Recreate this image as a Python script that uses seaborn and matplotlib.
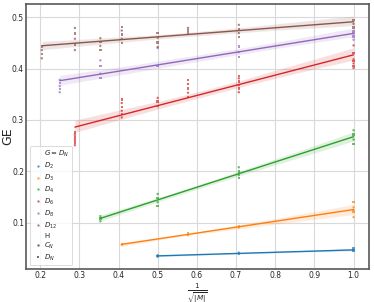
import numpy as np
import pandas as pd
import matplotlib
matplotlib.use("Agg")
import matplotlib.pyplot as plt
import seaborn as sns

# 1/sqrt(|M|) positions and GE values, one pair of lists per group G
d2_x = [0.5, 0.5, 0.5, 0.7071, 0.7071, 1.0, 1.0, 1.0]
d2_y = [0.034, 0.036, 0.037, 0.039, 0.042, 0.045, 0.047, 0.050]

d3_x = [0.4082, 0.4082, 0.5774, 0.5774, 0.7071, 0.7071, 1.0, 1.0, 1.0, 1.0]
d3_y = [0.057, 0.059, 0.076, 0.079, 0.091, 0.094, 0.111, 0.122, 0.130, 0.140]

d4_x = [0.3536] * 3 + [0.5] * 4 + [0.7071] * 4 + [1.0] * 4
d4_y = [0.103, 0.108, 0.113, 0.133, 0.140, 0.148, 0.156,
        0.187, 0.193, 0.200, 0.208, 0.253, 0.262, 0.272, 0.280]

d6_x = [0.2887] * 6 + [0.4082] * 6 + [0.5] * 3 + [0.5774] * 5 + [0.7071] * 6 + [1.0] * 7
d6_y = [0.251, 0.256, 0.261, 0.266, 0.271, 0.276,
        0.305, 0.312, 0.318, 0.325, 0.333, 0.340,
        0.327, 0.336, 0.343,
        0.345, 0.353, 0.361, 0.370, 0.378,
        0.354, 0.361, 0.368, 0.375, 0.381, 0.386,
        0.401, 0.405, 0.410, 0.415, 0.418, 0.430, 0.445]

d8_x = [0.25] * 5 + [0.3536] * 4 + [0.5] * 2 + [0.7071] * 3 + [1.0] * 4
d8_y = [0.354, 0.360, 0.366, 0.372, 0.378,
        0.382, 0.390, 0.405, 0.416,
        0.405, 0.440,
        0.423, 0.432, 0.443,
        0.456, 0.462, 0.468, 0.472]

d12_x = ([0.2041] * 4 + [0.2887] * 5 + [0.3536] * 4 + [0.4082] * 5
         + [0.5] * 4 + [0.5774] * 3 + [0.7071] * 4 + [1.0] * 3)
d12_y = [0.420, 0.428, 0.436, 0.443,
         0.436, 0.447, 0.458, 0.468, 0.479,
         0.436, 0.444, 0.452, 0.459,
         0.450, 0.458, 0.466, 0.474, 0.481,
         0.442, 0.451, 0.460, 0.469,
         0.469, 0.474, 0.479,
         0.461, 0.469, 0.477, 0.485,
         0.480, 0.487, 0.494]

groups = ["$D_2$", "$D_3$", "$D_4$", "$D_6$", "$D_8$", "$D_{12}$"]
subgroups = ["$C_N$", "$D_N$"]
xs = [d2_x, d3_x, d4_x, d6_x, d8_x, d12_x]
ys = [d2_y, d3_y, d4_y, d6_y, d8_y, d12_y]

G_COL = "$G = D_N$"
rows = []
for g, gx, gy in zip(groups, xs, ys):
    for i, (a, b) in enumerate(zip(gx, gy)):
        rows.append({"x": a, "GE": b, G_COL: g, "H": subgroups[i % 2]})
df = pd.DataFrame(rows)

sns.set_style("whitegrid")
plt.rcParams["axes.edgecolor"] = "0.35"
plt.rcParams["grid.color"] = "0.85"

fig, ax = plt.subplots(figsize=(3.74, 3.02), dpi=100)
palette = sns.color_palette("tab10", len(groups))

for g, c in zip(groups, palette):
    sub = df[df[G_COL] == g]
    sns.regplot(data=sub, x="x", y="GE", scatter=False, color=c, ax=ax,
                line_kws={"lw": 1.0})

sns.scatterplot(data=df, x="x", y="GE", hue=G_COL, style="H",
                hue_order=groups, style_order=subgroups, markers=["o", "s"],
                palette=palette, s=3, linewidth=0, alpha=0.7, ax=ax)

for s in ax.spines.values():
    s.set_linewidth(1.2)

ax.set_xlabel(r"$\frac{1}{\sqrt{|M|}}$", fontsize=7.5)
ax.set_ylabel("GE", fontsize=9)
ax.xaxis.set_label_coords(0.5, -0.049)
ax.yaxis.set_label_coords(-0.036, 0.5)
ax.tick_params(labelsize=5.5, length=0, pad=1.5)
ax.set_yticks([0.1, 0.2, 0.3, 0.4, 0.5])
leg = ax.legend(loc="lower left", fontsize=5, markerscale=1.0,
                handletextpad=0.2, labelspacing=0.25, borderpad=0.4,
                handlelength=1.5)
leg.get_frame().set_linewidth(0.6)

fig.subplots_adjust(left=0.07, right=0.987, top=0.987, bottom=0.11)
fig.savefig("out.png", dpi=100)
